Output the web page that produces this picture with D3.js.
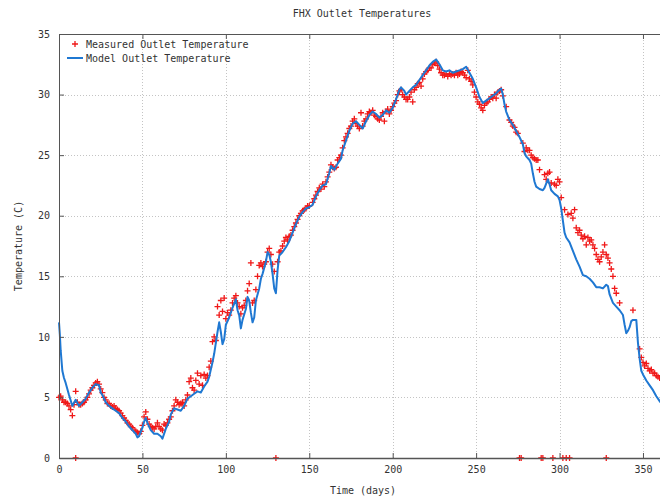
<!DOCTYPE html>
<html>
<head>
<meta charset="utf-8">
<script src="https://cdn.jsdelivr.net/npm/d3@7"></script>
<style>
  html, body { margin: 0; padding: 0; background: #fff; }
  svg { display: block; }
  text { font-family: "DejaVu Sans Mono", monospace; font-size: 10px; fill: #333; }
</style>
</head>
<body>
<svg id="chart" width="660" height="499"></svg>
<script>
// Chart text
const titleText = "FHX Outlet Temperatures";
const xLabelText = "Time (days)";
const yLabelText = "Temperature (C)";
const seriesNames = ["Measured Outlet Temperature", "Model Outlet Temperature"];

// Tick values
const xTicks = [0, 50, 100, 150, 200, 250, 300, 350];
const yTicks = [0, 5, 10, 15, 20, 25, 30, 35];

// Model outlet temperature: [day, °C]
const modelSeries = [
  [0, 11.2], [0.5, 10.2], [1, 8.9], [2, 7.2], [3, 6.6], [4, 6.2], [6, 5.2], [8, 4.3], [10, 4.8],
  [12, 4.3], [14, 4.6], [16, 4.9], [18, 5.4], [20, 5.8], [22, 6.1], [24, 6.0], [25, 5.4], [26, 5.2],
  [28, 4.6], [30, 4.3], [32, 4.1], [34, 3.9], [36, 3.7], [38, 3.3], [40, 3.0], [42, 2.6], [44, 2.3],
  [46, 2.0], [47, 1.7], [48, 1.8], [50, 2.5], [51, 3.0], [52, 3.3], [53, 2.9], [55, 2.3], [57, 2.0],
  [59, 2.0], [61, 1.8], [62, 1.6], [64, 2.4], [66, 3.0], [67, 3.6], [69, 4.1], [71, 4.0], [73, 3.9],
  [75, 4.3], [77, 4.9], [79, 5.1], [81, 5.3], [83, 5.5], [85, 5.4], [87, 5.9], [89, 6.3], [90, 6.7],
  [91, 7.3], [92, 7.9], [93, 8.6], [94, 9.5], [95, 10.4], [96, 11.2], [97, 10.4], [98, 9.4], [99, 9.8],
  [100, 11.0], [102, 11.6], [104, 12.4], [106, 13.1], [107, 12.2], [108, 11.8], [109, 10.7], [110, 11.4],
  [112, 12.3], [113, 13.3], [114, 13.0], [115, 12.0], [116, 11.2], [117, 11.6], [118, 13.0], [120, 14.0],
  [121, 14.8], [122, 15.2], [124, 16.2], [125, 17.0], [126, 16.8], [127, 16.2], [128, 15.2], [129, 14.0],
  [130, 13.6], [131, 15.5], [132, 16.7], [134, 17.0], [136, 17.4], [138, 17.9], [140, 18.6], [142, 19.3],
  [144, 19.9], [146, 20.3], [148, 20.6], [150, 20.7], [152, 20.9], [154, 21.6], [156, 22.1], [158, 22.5],
  [160, 22.6], [162, 23.5], [163, 24.1], [165, 23.8], [167, 24.3], [169, 24.7], [170, 25.4], [172, 26.2],
  [174, 27.0], [176, 27.6], [178, 27.8], [180, 27.5], [182, 27.2], [184, 27.8], [186, 28.3], [188, 28.6],
  [190, 28.4], [192, 28.1], [194, 28.3], [196, 28.7], [198, 28.5], [200, 28.9], [202, 29.6], [204, 30.4],
  [205, 30.6], [207, 30.3], [208, 30.0], [210, 30.3], [212, 30.6], [214, 30.8], [216, 31.2], [218, 31.6],
  [220, 32.0], [222, 32.4], [224, 32.7], [226, 32.9], [228, 32.5], [230, 32.0], [232, 31.9], [234, 32.0],
  [236, 31.8], [238, 31.9], [240, 32.0], [242, 32.1], [244, 32.3], [246, 31.8], [248, 31.3], [250, 30.6],
  [252, 29.8], [254, 29.3], [256, 29.5], [258, 29.7], [260, 29.9], [262, 30.1], [264, 30.4], [265, 30.5],
  [266, 30.0], [267, 29.2], [268, 28.6], [270, 27.9], [272, 27.5], [274, 27.0], [276, 26.5], [278, 25.9],
  [279, 25.2], [280, 24.9], [282, 24.6], [283, 24.3], [284, 23.5], [285, 22.8], [286, 22.4], [288, 22.2],
  [290, 22.1], [291, 22.3], [293, 23.0], [294, 22.6], [295, 22.1], [297, 21.8], [299, 21.6], [300, 21.3],
  [301, 20.6], [302, 19.6], [303, 18.6], [304, 18.2], [306, 17.8], [308, 17.1], [310, 16.4], [312, 15.8],
  [314, 15.1], [316, 15.0], [318, 14.8], [320, 14.5], [322, 14.1], [324, 14.1], [326, 14.0], [328, 14.3],
  [329, 14.2], [330, 13.5], [332, 12.8], [334, 12.5], [336, 12.2], [338, 11.8], [339, 11.0], [340, 10.3],
  [341, 10.5], [342, 10.8], [343, 11.3], [344, 11.4], [346, 11.4], [347, 9.5], [348, 8.2], [349, 7.2],
  [350, 6.9], [352, 6.4], [354, 6.0], [356, 5.6], [358, 5.1], [360, 4.7], [362, 4.3]
];

// Measured outlet temperature: [day, °C]
const measuredSeries = [
  [0, 5.0], [1, 5.1], [2, 4.8], [3, 4.6], [4, 4.6], [5, 4.5], [6, 4.3], [7, 4.0], [8, 3.5], [9, 4.4],
  [10, 5.5], [11, 4.6], [12, 4.4], [13, 4.4], [14, 4.5], [15, 4.6], [16, 4.8], [17, 5.0], [18, 5.3],
  [19, 5.6], [20, 5.8], [21, 6.0], [22, 6.2], [23, 6.3], [24, 6.1], [25, 5.7], [26, 5.4], [27, 5.0],
  [28, 4.8], [29, 4.5], [30, 4.5], [31, 4.3], [32, 4.2], [33, 4.3], [34, 4.1], [35, 4.0], [36, 3.9],
  [37, 3.7], [38, 3.5], [39, 3.3], [40, 3.1], [41, 2.9], [42, 2.8], [43, 2.6], [44, 2.5], [45, 2.3],
  [46, 2.2], [47, 2.1], [48, 2.0], [49, 2.2], [50, 2.7], [51, 3.4], [52, 3.8], [53, 3.2], [54, 2.8],
  [55, 2.6], [56, 2.5], [57, 2.4], [58, 2.6], [59, 2.9], [60, 2.6], [61, 2.4], [62, 2.3], [63, 2.8],
  [64, 2.7], [65, 2.9], [66, 3.2], [67, 3.4], [68, 3.9], [69, 4.3], [70, 4.8], [71, 4.6], [72, 4.4],
  [73, 4.5], [74, 4.6], [75, 4.3], [76, 4.8], [77, 5.2], [78, 6.3], [79, 6.6], [80, 5.8], [81, 5.6],
  [82, 6.4], [83, 7.0], [84, 6.1], [85, 6.8], [86, 6.0], [87, 6.9], [88, 6.6], [89, 6.8], [90, 7.5],
  [91, 8.0], [92, 9.6], [93, 10.0], [94, 9.7], [95, 12.5], [96, 11.8], [97, 13.0], [98, 12.1], [99, 13.2],
  [100, 11.5], [101, 12.0], [102, 11.8], [103, 12.2], [104, 12.8], [105, 13.2], [106, 13.4], [107, 12.8],
  [108, 12.5], [109, 11.9], [110, 12.4], [111, 12.6], [112, 13.0], [113, 13.8], [114, 14.4], [115, 16.1],
  [116, 12.8], [117, 13.0], [118, 13.9], [119, 15.0], [120, 15.9], [121, 16.1], [122, 15.8], [123, 16.0],
  [124, 16.2], [125, 17.0], [126, 17.3], [127, 16.8], [128, 16.0], [129, 15.4], [131, 16.2], [132, 17.0],
  [133, 17.1], [134, 17.5], [135, 17.9], [136, 18.2], [137, 18.0], [138, 18.3], [139, 18.4], [140, 18.8],
  [141, 19.1], [142, 19.4], [143, 19.7], [144, 20.0], [145, 20.2], [146, 20.4], [147, 20.5], [148, 20.6],
  [149, 20.8], [150, 20.8], [152, 21.1], [153, 21.4], [154, 21.7], [155, 22.0], [156, 22.3], [157, 22.2],
  [158, 22.6], [159, 22.4], [160, 22.8], [161, 23.2], [162, 23.6], [163, 24.2], [164, 24.0], [165, 23.9],
  [166, 24.0], [167, 24.6], [168, 24.8], [169, 25.0], [170, 25.6], [171, 26.2], [172, 26.5], [173, 26.8],
  [174, 27.2], [175, 27.4], [176, 27.8], [177, 28.0], [178, 27.6], [179, 27.4], [180, 27.2], [181, 28.5],
  [182, 27.4], [183, 27.8], [184, 28.0], [185, 28.4], [186, 28.6], [187, 28.5], [188, 28.7], [189, 28.3],
  [190, 28.2], [191, 28.0], [192, 27.9], [193, 28.2], [194, 28.5], [195, 27.8], [196, 28.6], [197, 28.8],
  [198, 28.4], [199, 28.7], [200, 29.0], [201, 29.3], [202, 29.5], [203, 30.0], [204, 30.3], [205, 30.4],
  [206, 30.0], [207, 29.8], [208, 29.6], [209, 29.6], [210, 29.8], [211, 30.2], [212, 29.4], [213, 30.4],
  [214, 30.6], [215, 30.9], [216, 31.0], [217, 30.7], [218, 31.3], [219, 31.7], [220, 31.9], [221, 32.0],
  [222, 32.2], [223, 32.2], [224, 32.5], [225, 32.6], [226, 32.7], [227, 32.4], [228, 32.1], [229, 31.8],
  [230, 31.6], [231, 31.6], [232, 31.7], [233, 31.5], [234, 31.7], [235, 31.6], [236, 31.7], [237, 31.6],
  [238, 31.8], [239, 31.6], [240, 31.7], [241, 31.9], [242, 31.8], [243, 31.6], [244, 31.4], [245, 32.0],
  [246, 31.3], [247, 31.1], [248, 30.8], [249, 30.2], [250, 29.8], [251, 29.4], [252, 29.2], [253, 28.9],
  [254, 28.7], [255, 29.1], [256, 29.3], [257, 29.4], [258, 29.6], [259, 29.8], [260, 29.7], [261, 30.0],
  [262, 29.7], [263, 30.2], [264, 30.3], [265, 30.4], [266, 29.9], [268, 29.0], [270, 27.9], [271, 27.7],
  [272, 27.4], [273, 27.3], [274, 26.9], [275, 26.8], [278, 26.0], [279, 25.3], [280, 25.6], [281, 25.4],
  [282, 25.4], [283, 25.0], [284, 24.8], [285, 24.7], [286, 24.6], [287, 24.6], [288, 23.8], [291, 23.4],
  [292, 23.0], [293, 23.5], [294, 23.6], [295, 22.7], [297, 22.6], [298, 22.5], [299, 23.0], [300, 22.8],
  [301, 21.5], [303, 20.5], [305, 20.1], [307, 20.2], [308, 19.8], [309, 20.5], [310, 19.0], [311, 18.6],
  [312, 18.8], [313, 18.4], [314, 18.1], [315, 18.3], [316, 17.6], [317, 18.2], [318, 17.9], [319, 18.0],
  [320, 17.6], [321, 17.3], [322, 16.8], [323, 16.4], [324, 16.2], [325, 16.6], [326, 17.0], [327, 17.6],
  [328, 16.8], [329, 16.5], [330, 16.1], [331, 15.6], [332, 15.0], [333, 14.0], [334, 13.6], [336, 12.8],
  [344, 12.2], [348, 9.0], [349, 8.3], [350, 7.9], [351, 7.6], [352, 7.8], [353, 7.4], [354, 7.2],
  [355, 7.3], [356, 7.0], [357, 7.0], [358, 6.8], [359, 6.7], [360, 6.6],
  // sensor dropouts logged as zero
  [10, 0], [130, 0], [276, 0], [277, 0], [289, 0], [290, 0], [296, 0], [302, 0], [304, 0], [306, 0], [328, 0]
];

const svg = d3.select("#chart");

const x = d3.scaleLinear().domain([0, 365]).range([59, 668]);
const y = d3.scaleLinear().domain([0, 35]).range([458, 34]);

// Dotted grid
const grid = svg.append("g").attr("stroke", "#c4c4c4").attr("stroke-width", 1)
  .attr("stroke-dasharray", "1,2");
grid.selectAll("line.gx").data(xTicks.filter(d => d > 0)).join("line")
  .attr("x1", d => Math.round(x(d)) + 0.5).attr("x2", d => Math.round(x(d)) + 0.5)
  .attr("y1", y(0)).attr("y2", y(35));
grid.selectAll("line.gy").data(yTicks.filter(d => d > 0 && d < 35)).join("line")
  .attr("y1", d => Math.round(y(d)) + 0.5).attr("y2", d => Math.round(y(d)) + 0.5)
  .attr("x1", x(0)).attr("x2", x(365));

// Measured points (+ markers)
const cross = 3;
svg.append("g").attr("stroke", "#f01818").attr("stroke-width", 1.3).attr("fill", "none")
  .selectAll("path").data(measuredSeries).join("path")
  .attr("d", d => {
    const px = x(d[0]), py = y(d[1]);
    return `M${px - cross},${py}h${2 * cross}M${px},${py - cross}v${2 * cross}`;
  });

// Model line
svg.append("path").datum(modelSeries)
  .attr("fill", "none").attr("stroke", "#1f78d2").attr("stroke-width", 2)
  .attr("stroke-linejoin", "round")
  .attr("d", d3.line().x(d => x(d[0])).y(d => y(d[1])));

// Axes with inward ticks
const axisBottomG = svg.append("g").attr("transform", `translate(0,${y(0)})`)
  .call(d3.axisBottom(x).tickValues(xTicks).tickSizeInner(-5).tickSizeOuter(0).tickPadding(8));
const axisTopG = svg.append("g").attr("transform", `translate(0,${y(35)})`)
  .call(d3.axisTop(x).tickValues(xTicks).tickSizeInner(-5).tickSizeOuter(0).tickFormat(""));
const axisLeftG = svg.append("g").attr("transform", `translate(${x(0)},0)`)
  .call(d3.axisLeft(y).tickValues(yTicks).tickSizeInner(-5).tickSizeOuter(0).tickPadding(9));

[axisBottomG, axisTopG, axisLeftG].forEach(g => {
  g.select(".domain").attr("stroke", "#555");
  g.selectAll(".tick line").attr("stroke", "#555");
  g.selectAll(".tick text").style("font-family", "DejaVu Sans Mono, monospace")
    .style("font-size", "10px").attr("fill", "#333");
});
axisBottomG.select(".domain").attr("stroke-width", 1.5);

// Title and axis labels
svg.append("text").attr("x", 362).attr("y", 17).attr("text-anchor", "middle").text(titleText);
svg.append("text").attr("x", 363).attr("y", 494).attr("text-anchor", "middle").text(xLabelText);
svg.append("text").attr("transform", "translate(22,246) rotate(-90)")
  .attr("text-anchor", "middle").text(yLabelText);

// Legend
const legend = svg.append("g");
legend.append("path").attr("d", "M72,44h6M75,41v6").attr("stroke", "#f01818").attr("stroke-width", 1.3);
legend.append("text").attr("x", 86).attr("y", 47.5).text(seriesNames[0]);
legend.append("line").attr("x1", 67).attr("x2", 83).attr("y1", 58).attr("y2", 58)
  .attr("stroke", "#1f78d2").attr("stroke-width", 2);
legend.append("text").attr("x", 86).attr("y", 61.5).text(seriesNames[1]);
</script>
</body>
</html>
